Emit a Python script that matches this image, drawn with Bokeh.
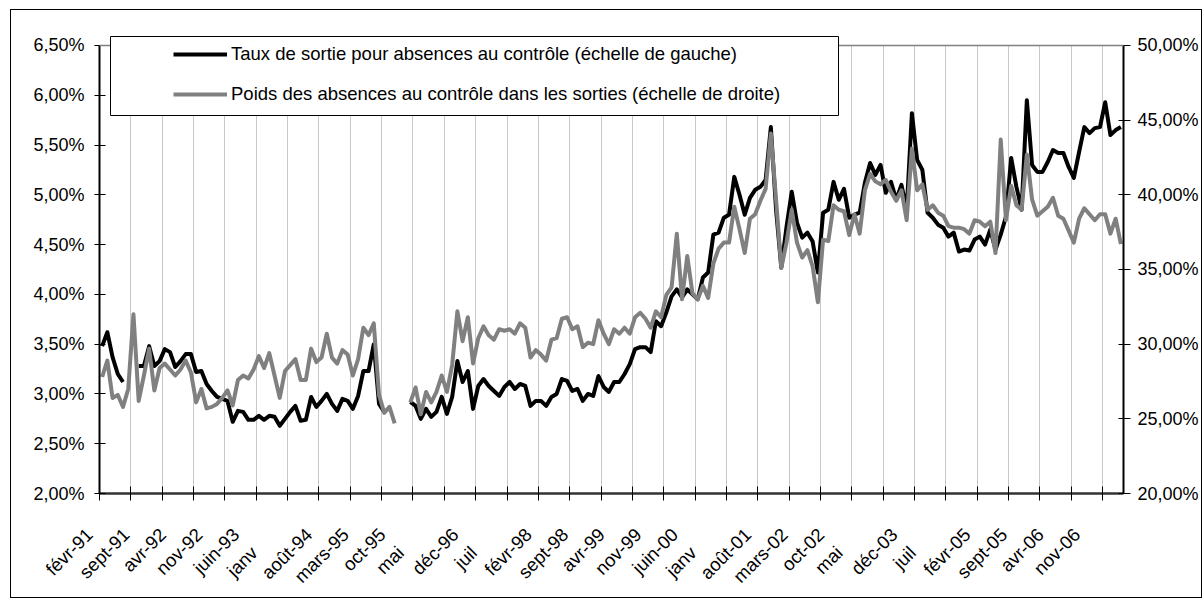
import math
from bokeh.plotting import figure
from bokeh.layouts import column
from bokeh.models import (Range1d, LinearAxis, FixedTicker, Span, BoxAnnotation,
                          Legend, LegendItem, ColumnDataSource)
from bokeh.embed import file_html
from bokeh.resources import INLINE

# ---------------- data (monthly, février 1991 -> mai 2007) ----------------
# Taux de sortie pour absences au contrôle (%, échelle de gauche)
taux = [
    3.48, 3.62, 3.37, 3.20, 3.12, None, None, 3.28, 3.28, 3.48,
    3.28, 3.33, 3.45, 3.42, 3.27, 3.33, 3.40, 3.40, 3.22, 3.23,
    3.10, 3.03, 2.97, 2.95, 2.93, 2.72, 2.83, 2.82, 2.74, 2.74,
    2.78, 2.74, 2.78, 2.77, 2.68, 2.75, 2.82, 2.88, 2.73, 2.74,
    2.97, 2.87, 2.93, 3.00, 2.90, 2.83, 2.95, 2.93, 2.85, 2.98,
    3.23, 3.23, 3.50, 2.90, 2.82, None, None, None, None, 2.92,
    2.88, 2.75, 2.85, 2.77, 2.82, 2.97, 2.80, 2.97, 3.33, 3.12,
    3.23, 2.85, 3.08, 3.15, 3.08, 3.03, 2.98, 3.07, 3.12, 3.05,
    3.10, 3.08, 2.88, 2.93, 2.93, 2.88, 2.97, 3.00, 3.15, 3.13,
    3.03, 3.05, 2.93, 3.00, 2.98, 3.18, 3.07, 3.02, 3.12, 3.12,
    3.20, 3.30, 3.45, 3.47, 3.47, 3.42, 3.73, 3.68, 3.82, 3.98,
    4.05, 3.97, 4.05, 4.00, 3.95, 4.17, 4.22, 4.60, 4.62, 4.77,
    4.80, 5.18, 5.00, 4.80, 4.97, 5.05, 5.08, 5.15, 5.68, 4.85,
    4.27, 4.68, 5.03, 4.72, 4.57, 4.62, 4.53, 4.22, 4.82, 4.85,
    5.13, 4.95, 5.06, 4.77, 4.80, 4.82, 5.12, 5.32, 5.20, 5.30,
    5.02, 5.13, 4.95, 5.10, 4.85, 5.82, 5.35, 5.25, 4.82, 4.77,
    4.70, 4.67, 4.58, 4.62, 4.43, 4.45, 4.44, 4.55, 4.58, 4.50,
    4.65, 4.45, 4.60, 4.78, 5.37, 5.08, 4.85, 5.95, 5.30, 5.23,
    5.23, 5.33, 5.45, 5.42, 5.42, 5.28, 5.17, 5.43, 5.68, 5.62,
    5.67, 5.68, 5.93, 5.60, 5.65, 5.68,
]

# Poids des absences au contrôle dans les sorties (%, échelle de droite)
poids = [
    27.8, 28.9, 26.4, 26.6, 25.8, 27.0, 32.0, 26.2, 27.9, 29.7,
    26.9, 28.4, 28.7, 28.3, 27.9, 28.3, 28.9, 28.1, 26.1, 27.0,
    25.7, 25.8, 26.0, 26.4, 26.9, 25.9, 27.6, 27.9, 27.7, 28.3,
    29.2, 28.4, 29.4, 27.9, 26.4, 28.2, 28.6, 29.0, 27.6, 27.6,
    29.7, 28.8, 29.1, 30.7, 29.1, 28.7, 29.6, 29.3, 27.9, 29.0,
    31.1, 30.6, 31.4, 26.6, 25.4, 25.8, 24.7, None, None, 26.1,
    27.1, 25.3, 26.8, 26.1, 26.8, 27.9, 26.8, 28.6, 32.2, 30.2,
    31.8, 28.7, 30.4, 31.2, 30.6, 30.3, 31.0, 30.9, 31.0, 30.7,
    31.4, 31.1, 29.1, 29.6, 29.3, 28.9, 30.3, 30.4, 31.7, 31.8,
    31.0, 31.2, 29.8, 30.1, 30.0, 31.6, 30.7, 30.0, 31.0, 30.7,
    31.1, 30.7, 31.8, 32.1, 31.7, 31.1, 32.2, 31.8, 33.3, 33.8,
    37.4, 33.0, 35.9, 33.4, 33.0, 33.9, 33.1, 35.4, 36.4, 36.8,
    36.8, 39.2, 37.7, 36.1, 38.4, 38.7, 39.6, 40.4, 44.1, 39.7,
    35.1, 36.8, 39.0, 36.8, 35.8, 36.3, 35.2, 32.8, 37.0, 36.9,
    39.3, 39.0, 38.9, 37.3, 38.7, 37.4, 40.3, 41.4, 40.9, 40.7,
    41.0, 40.2, 39.6, 40.3, 38.3, 43.1, 40.3, 40.7, 39.0, 39.3,
    38.8, 38.6, 37.9, 37.8, 37.8, 37.7, 37.4, 38.3, 38.2, 37.9,
    38.2, 36.1, 43.7, 38.3, 40.6, 39.3, 39.0, 42.7, 39.7, 38.6,
    38.9, 39.2, 39.8, 38.6, 38.4, 37.6, 36.8, 38.4, 39.1, 38.7,
    38.3, 38.7, 38.7, 37.4, 38.4, 36.7,
]

# category labels shown every 7 months (as displayed; some are cut in the original)
x_labels = ["févr-91", "sept-91", "avr-92", "nov-92", "juin-93", "janv", "août-94",
            "mars-95", "oct-95", "mai", "déc-96", "juil", "févr-98", "sept-98",
            "avr-99", "nov-99", "juin-00", "janv", "août-01", "mars-02", "oct-02",
            "mai", "déc-03", "juil", "févr-05", "sept-05", "avr-06", "nov-06"]
label_step = 7
grid_step = 6

left_ticks = [2.0, 2.5, 3.0, 3.5, 4.0, 4.5, 5.0, 5.5, 6.0, 6.5]
left_tick_labels = ["2,00%", "2,50%", "3,00%", "3,50%", "4,00%", "4,50%", "5,00%",
                    "5,50%", "6,00%", "6,50%"]
right_ticks = [20, 25, 30, 35, 40, 45, 50]
right_tick_labels = ["20,00%", "25,00%", "30,00%", "35,00%", "40,00%", "45,00%", "50,00%"]

legend_labels = ["Taux de sortie pour absences au contrôle (échelle de gauche)",
                 "Poids des absences au contrôle dans les sorties (échelle de droite)"]

# ---------------- figure ----------------
FONT = "Liberation Sans"
N = len(taux)
nan = float("nan")
src = ColumnDataSource(dict(
    x=[i + 0.5 for i in range(N)],
    taux=[nan if v is None else v for v in taux],
    poids=[nan if v is None else v for v in poids],
))

# frame is a little taller than the axes so the legend box can overlap the top edge
TOP_PAD = 10
p = figure(width=1190, height=587, x_range=Range1d(0, N),
           y_range=Range1d(2.0, 6.5 + TOP_PAD * 4.5 / 450),
           output_backend="svg", toolbar_location=None,
           min_border_left=88, min_border_right=78, min_border_top=35 - TOP_PAD,
           min_border_bottom=102)
p.extra_y_ranges = {"right": Range1d(20, 50 + TOP_PAD * 30 / 450)}
p.background_fill_color = "white"
p.border_fill_color = "white"
p.outline_line_color = None

bound_ticks = list(range(0, N, grid_step))
p.ygrid.visible = False
p.xgrid.ticker = FixedTicker(ticks=bound_ticks)
p.xgrid.grid_line_color = "#c8c8c8"
p.xgrid.grid_line_width = 1

# bottom axis: tick marks every 6 months
xa = p.xaxis[0]
xa.ticker = FixedTicker(ticks=bound_ticks)
xa.major_label_overrides = {t: "" for t in bound_ticks}
xa.major_label_text_font_size = "0px"
xa.major_label_standoff = 0
xa.axis_line_color = "#333333"
xa.axis_line_width = 2.5
xa.major_tick_line_color = "#000000"
xa.major_tick_in = 7
xa.major_tick_out = 7
xa.minor_tick_line_color = None

# second bottom axis: rotated labels every 7 months
PAD = "\u00a0" * 3
label_pos = [round(label_step * k + 0.18, 2) for k in range(len(x_labels))]
shown = [lab + PAD if "-" in lab else lab + "\u00a0" * 5 + PAD for lab in x_labels]
xb = LinearAxis(ticker=FixedTicker(ticks=label_pos),
                major_label_overrides=dict(zip(label_pos, shown)))
xb.axis_line_color = None
xb.major_tick_line_color = None
xb.minor_tick_line_color = None
xb.major_tick_in = 0
xb.major_tick_out = 0
xb.major_label_orientation = math.pi / 4
xb.major_label_standoff = 20
xb.major_label_text_font = FONT
xb.major_label_text_font_size = "18.5px"
xb.major_label_text_color = "#000000"
p.add_layout(xb, "below")

ya = p.yaxis[0]
ya.ticker = FixedTicker(ticks=left_ticks)
ya.bounds = (2.0, 6.5)
ya.major_label_overrides = dict(zip(left_ticks, left_tick_labels))
ya.axis_line_color = "#000000"
ya.axis_line_width = 2
ya.major_tick_line_color = "#000000"
ya.major_tick_in = 6
ya.major_tick_out = 5
ya.minor_tick_line_color = None
ya.major_label_standoff = 10
ya.major_label_text_font = FONT
ya.major_label_text_font_size = "18px"
ya.major_label_text_color = "#000000"

ra = LinearAxis(y_range_name="right", ticker=FixedTicker(ticks=right_ticks),
                major_label_overrides=dict(zip(right_ticks, right_tick_labels)))
ra.bounds = (20, 50)
ra.axis_line_color = "#000000"
ra.axis_line_width = 2
ra.major_tick_line_color = "#000000"
ra.major_tick_in = 5
ra.major_tick_out = 7
ra.minor_tick_line_color = None
ra.major_label_standoff = 7
ra.major_label_text_font = FONT
ra.major_label_text_font_size = "18px"
ra.major_label_text_color = "#000000"
p.add_layout(ra, "right")

r1 = p.line("x", "taux", source=src, line_color="#000000", line_width=4, line_join="round")
r2 = p.line("x", "poids", source=src, y_range_name="right", line_color="#808080",
            line_width=4, line_join="round")

# blank strip above the 6,50% level, then the top edge of the plot area
p.add_layout(BoxAnnotation(bottom=6.5, fill_color="white", fill_alpha=1.0, line_color=None))
p.add_layout(Span(location=6.5, dimension="width", line_color="#808080", line_width=1.5))

# legend box
p.add_layout(BoxAnnotation(left=11, right=739, bottom=378, top=457,
                           left_units="screen", right_units="screen",
                           bottom_units="screen", top_units="screen",
                           fill_color="white", fill_alpha=1.0,
                           line_color="#000000", line_width=1, line_alpha=1.0))
legend = Legend(items=[LegendItem(label=legend_labels[0], renderers=[r1]),
                       LegendItem(label=legend_labels[1], renderers=[r2])],
                location=(74, 388), orientation="vertical", padding=0, margin=0,
                spacing=18, glyph_width=54, glyph_height=22, label_height=22,
                label_standoff=4, label_text_font=FONT, label_text_font_size="18.5px",
                label_text_color="#000000", border_line_color=None,
                background_fill_alpha=0)
p.add_layout(legend)

root = column(p, styles={"border": "1px solid #000000", "margin-left": "10px",
                         "margin-top": "9px"})

open("out.html", "w").write(file_html(root, INLINE))
